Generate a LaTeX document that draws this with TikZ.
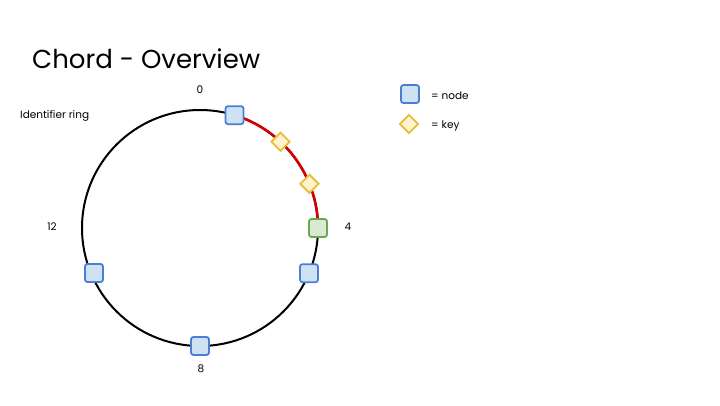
\documentclass[tikz,border=0pt]{standalone}
\usepackage{fontspec}
\setmainfont{Poppins}
\usetikzlibrary{shapes.geometric}
\definecolor{nodeblue}{HTML}{CFE2F3}
\definecolor{nodeblueb}{HTML}{4A7FD4}
\definecolor{nodegreen}{HTML}{D9EAD3}
\definecolor{nodegreenb}{HTML}{6AA84F}
\definecolor{keyfill}{HTML}{FFF2CC}
\definecolor{keyb}{HTML}{E6BE3C}
\definecolor{ringred}{HTML}{D40000}
\tikzset{
  ringnode/.style={draw=nodeblueb,fill=nodeblue,line width=1.8pt,rounded corners=2.5pt,minimum size=18pt,inner sep=0pt},
  succnode/.style={ringnode,draw=nodegreenb,fill=nodegreen},
  keynode/.style={draw=keyb,fill=keyfill,line width=1.8pt,diamond,minimum size=19pt,inner sep=0pt},
  lbl/.style={font=\fontsize{10.5}{12}\selectfont,inner sep=0pt}
}
\begin{document}
\begin{tikzpicture}[x=1pt,y=-1pt]
\useasboundingbox (0,0) rectangle (720,405);
\node[anchor=west,inner sep=0pt,font=\fontsize{26}{30}\selectfont] (title) at (32,59) {Chord - Overview};
\draw[line width=2pt] (200,228) circle (118);
\draw[ringred,line width=2.6pt] plot[domain=17:90,samples=40] ({200+118*sin(\x)},{228-118*cos(\x)});
\node[ringnode] (n1) at ({200+118*sin(17)},{228-118*cos(17)}) {};
\node[keynode] (k1) at ({200+118*sin(43)},{228-118*cos(43)}) {};
\node[keynode] (k2) at ({200+118*sin(68)},{228-118*cos(68)}) {};
\node[succnode] (n4) at ({200+118*sin(90)},{228-118*cos(90)}) {};
\node[ringnode] (n5) at ({200+118*sin(112.5)},{228-118*cos(112.5)}) {};
\node[ringnode] (n8) at (200,346) {};
\node[ringnode] (n11) at (94,273) {};
\node[lbl] (l0) at (200,90) {0};
\node[lbl] (l4) at (348,227) {4};
\node[lbl] (l8) at (201,369) {8};
\node[lbl] (l12) at (52,227) {12};
\node[lbl,anchor=west] (ring) at (20,116) {Identifier ring};
\node[ringnode] (legn) at (410,94) {};
\node[lbl,anchor=west] (legnt) at (431,96) {= node};
\node[keynode] (legk) at (409,124) {};
\node[lbl,anchor=west] (legkt) at (431,126) {= key};
\end{tikzpicture}
\end{document}
